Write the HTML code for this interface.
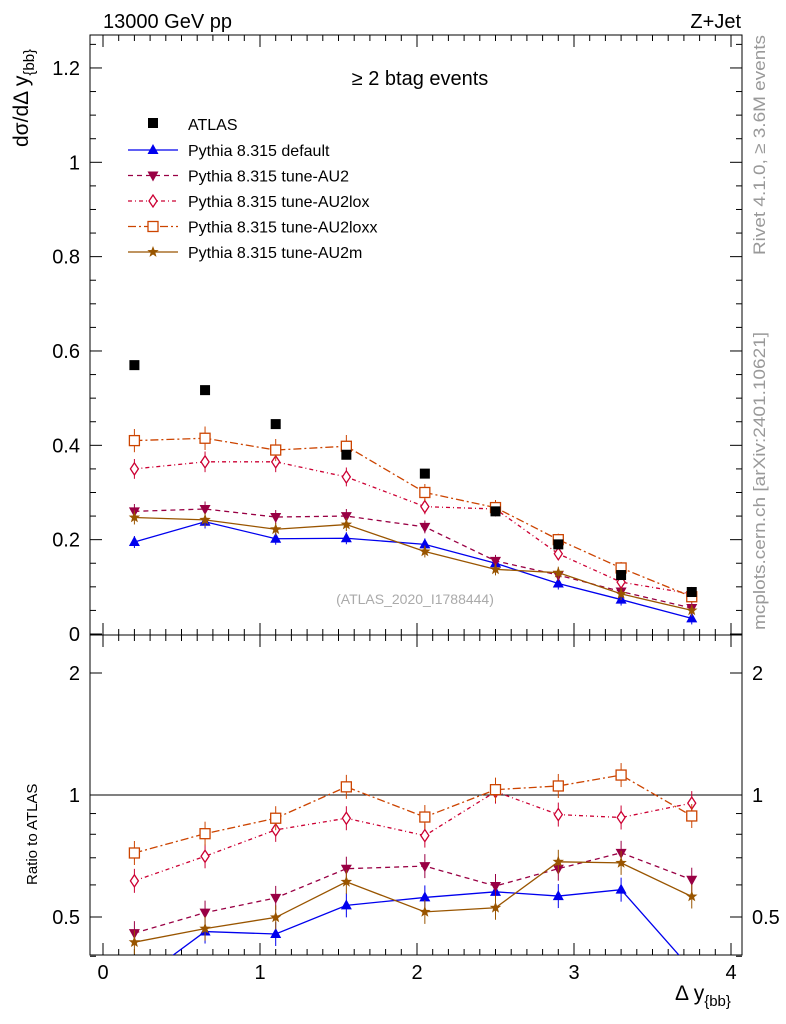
<!DOCTYPE html>
<html><head><meta charset="utf-8"><style>
body{margin:0;background:#fff;}
svg{font-family:"Liberation Sans",sans-serif;display:block}
</style></head><body>
<svg id="c" width="786" height="1024" xmlns="http://www.w3.org/2000/svg"></svg>
<script>
const xs=[0.2,0.65,1.1,1.55,2.05,2.5,2.9,3.3,3.75];
const atlas=[0.57,0.517,0.445,0.38,0.34,0.26,0.19,0.125,0.089];
const sDefault=[0.195,0.238,0.202,0.203,0.19,0.15,0.107,0.073,0.033];
const sAU2=[0.26,0.265,0.248,0.25,0.227,0.155,0.125,0.09,0.055];
const sAU2lox=[0.35,0.365,0.365,0.333,0.27,0.265,0.17,0.11,0.085];
const sAU2loxx=[0.41,0.415,0.39,0.398,0.3,0.268,0.2,0.14,0.079];
const sAU2m=[0.247,0.242,0.222,0.232,0.175,0.137,0.13,0.085,0.05];
const xTicks=[0,1,2,3,4];
const yTicks=[0,0.2,0.4,0.6,0.8,1,1.2];
const rTicks=[0.5,1,2];

const NS="http://www.w3.org/2000/svg",svg=document.getElementById('c');
function el(t,a,p){const e=document.createElementNS(NS,t);for(const k in a)e.setAttribute(k,a[k]);(p||svg).appendChild(e);return e;}
const L=90,R=742,T=35,M=635,B=955;
const X=v=>103+v*157;
const Y=v=>634-v*471.7;
const RY=v=>795-Math.log2(v)*122;

let f=el('rect',{x:L,y:T,width:R-L,height:M-T,fill:'none',stroke:'#000','stroke-width':1});

f=el('rect',{x:L,y:M,width:R-L,height:B-M,fill:'none',stroke:'#000','stroke-width':1});


for(let v=0;v<=4.0001;v+=0.1){
  const x=X(v),maj=Math.abs(v-Math.round(v))<1e-6,len=maj?12:6;
  for(const [y0,dir] of [[M,-1],[T,1],[B,-1],[M,1]]){
    el('line',{x1:x,x2:x,y1:y0,y2:y0+dir*len,stroke:'#000'});
  }
}
xTicks.forEach(v=>{const t=el('text',{x:X(v),y:979,'font-size':20,'text-anchor':'middle'});t.textContent=v;
 });
for(let v=0;v<=1.27;v+=0.05){const y=Y(v),maj=Math.abs(v*5-Math.round(v*5))<1e-6,len=maj?12:6;
 if(y<T)continue;
 el('line',{x1:L,x2:L+len,y1:y,y2:y,stroke:'#000'});el('line',{x1:R,x2:R-len,y1:y,y2:y,stroke:'#000'});}
yTicks.forEach(v=>{const t=el('text',{x:80,y:Y(v)+7,'font-size':20,'text-anchor':'end'});t.textContent=v;
 });
for(const v of [0.4,0.5,0.6,0.7,0.8,0.9,1,2]){const y=RY(v),maj=rTicks.includes(v),len=maj?12:6;
 el('line',{x1:L,x2:L+len,y1:y,y2:y,stroke:'#000'});el('line',{x1:R,x2:R-len,y1:y,y2:y,stroke:'#000'});}
rTicks.forEach(v=>{for(const [x,a] of [[80,'end'],[752,'start']]){const t=el('text',{x:x,y:RY(v)+7,'font-size':20,'text-anchor':a});t.textContent=v;
 }});
el('line',{x1:L,x2:R,y1:RY(1),y2:RY(1),stroke:'#000'});

function txt(s,a,name){const t=el('text',a);t.textContent=s;return t;}
txt('13000 GeV pp',{x:103,y:28,'font-size':20},'energy-label');
txt('Z+Jet',{x:741,y:28,'font-size':20,'text-anchor':'end'},'process-label');
txt('≥ 2 btag events',{x:420,y:85,'font-size':20,'text-anchor':'middle'},'plot-title');
txt('(ATLAS_2020_I1788444)',{x:415,y:604,'font-size':14,fill:'#aaa','text-anchor':'middle'},'analysis-id');
txt('Rivet 4.1.0, ≥ 3.6M events',{x:0,y:0,'font-size':17,fill:'#999',textLength:220,lengthAdjust:'spacingAndGlyphs',transform:'translate(765,255) rotate(-90)'},'rivet-label');
txt('mcplots.cern.ch [arXiv:2401.10621]',{x:0,y:0,'font-size':17,fill:'#999',textLength:298,lengthAdjust:'spacingAndGlyphs',transform:'translate(765,630) rotate(-90)'},'mcplots-label');
const yt=txt('',{x:0,y:0,'font-size':21,transform:'translate(28,147) rotate(-90)'},'y-axis-title');
yt.innerHTML='dσ/dΔ y<tspan font-size="15" dy="6">{bb}</tspan>';
txt('Ratio to ATLAS',{x:0,y:0,'font-size':15,transform:'translate(37,885) rotate(-90)'},'ratio-axis-title');
const xt=txt('',{x:675,y:1000,'font-size':21},'x-axis-title');
xt.innerHTML='Δ y<tspan font-size="15" dy="6">{bb}</tspan>';

function marker(g,type,x,y,c){
 if(type==='sq')el('rect',{x:x-5,y:y-5,width:10,height:10,fill:c},g);
 else if(type==='tri')el('polygon',{points:`${x},${y-6} ${x-5.5},${y+4} ${x+5.5},${y+4}`,fill:c},g);
 else if(type==='itri')el('polygon',{points:`${x},${y+6} ${x-5.5},${y-4} ${x+5.5},${y-4}`,fill:c},g);
 else if(type==='dia')el('polygon',{points:`${x},${y-6} ${x-4},${y} ${x},${y+6} ${x+4},${y}`,fill:'#fff',stroke:c,'stroke-width':1.3},g);
 else if(type==='osq')el('rect',{x:x-5,y:y-5,width:10,height:10,fill:'#fff',stroke:c,'stroke-width':1.3},g);
 else if(type==='star'){let p=[];for(let i=0;i<10;i++){const r=i%2?2.5:6,a=-Math.PI/2+i*Math.PI/5;p.push((x+r*Math.cos(a)).toFixed(1)+','+(y+r*Math.sin(a)).toFixed(1));}
  el('polygon',{points:p.join(' '),fill:c},g);}
}
const series=[
 {name:'default',d:sDefault,c:'#0000ee',m:'tri',dash:'',lab:'Pythia 8.315 default'},
 {name:'au2',d:sAU2,c:'#990044',m:'itri',dash:'5,4',lab:'Pythia 8.315 tune-AU2'},
 {name:'au2lox',d:sAU2lox,c:'#cc0033',m:'dia',dash:'4,3,1,3',lab:'Pythia 8.315 tune-AU2lox'},
 {name:'au2loxx',d:sAU2loxx,c:'#cc4400',m:'osq',dash:'8,3,2,3',lab:'Pythia 8.315 tune-AU2loxx'},
 {name:'au2m',d:sAU2m,c:'#995500',m:'star',dash:'',lab:'Pythia 8.315 tune-AU2m'}];

const cmc=el('clipPath',{id:'cm'});el('rect',{x:L,y:T,width:R-L,height:M-T},cmc);
const cr=el('clipPath',{id:'cr'});el('rect',{x:L,y:M,width:R-L,height:B-M},cr);

series.forEach(s=>{
 const g=el('g',{'clip-path':'url(#cm)'});
 el('polyline',{points:xs.map((x,i)=>X(x)+','+Y(s.d[i])).join(' '),fill:'none',stroke:s.c,'stroke-width':1.3,'stroke-dasharray':s.dash},g);
 xs.forEach((x,i)=>{const e=Math.max(6,s.d[i]*0.06*471.7);el('line',{x1:X(x),x2:X(x),y1:Y(s.d[i])-e,y2:Y(s.d[i])+e,stroke:s.c},g);marker(g,s.m,X(x),Y(s.d[i]),s.c);});
 const gr=el('g',{'clip-path':'url(#cr)'});
 const r=s.d.map((v,i)=>v/atlas[i]);
 el('polyline',{points:xs.map((x,i)=>X(x)+','+RY(r[i])).join(' '),fill:'none',stroke:s.c,'stroke-width':1.3,'stroke-dasharray':s.dash},gr);
 xs.forEach((x,i)=>{const y=RY(r[i]);el('line',{x1:X(x),x2:X(x),y1:y-12,y2:y+12,stroke:s.c},gr);marker(gr,s.m,X(x),y,s.c);});
});
const ga=el('g',{});
xs.forEach((x,i)=>marker(ga,'sq',X(x),Y(atlas[i]),'#000'));

const lg=el('g',{});
marker(lg,'sq',153,123,'#000');
let t=el('text',{x:188,y:130,'font-size':16},lg);t.textContent='ATLAS';
series.forEach((s,i)=>{const y=150+i*25.5;
 el('line',{x1:128,x2:178,y1:y,y2:y,stroke:s.c,'stroke-width':1.3,'stroke-dasharray':s.dash},lg);
 marker(lg,s.m,153,y,s.c);
 const tt=el('text',{x:188,y:y+6,'font-size':16},lg);tt.textContent=s.lab;});
</script>
</body></html>
